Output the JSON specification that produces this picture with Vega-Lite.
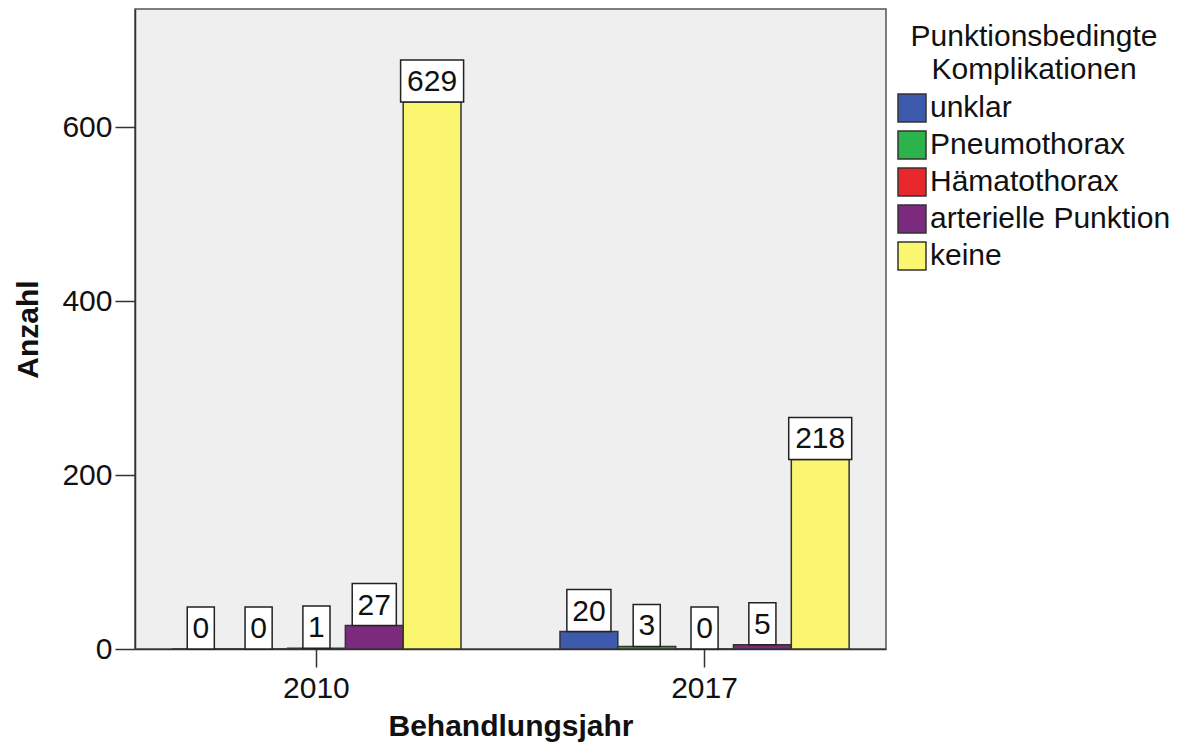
{
  "$schema": "https://vega.github.io/schema/vega-lite/v6.json",
  "width": 751,
  "height": 640,
  "autosize": {"type": "none"},
  "padding": {"left": 135, "top": 9, "right": 306, "bottom": 95},
  "background": "white",
  "config": {
    "font": "Liberation Sans",
    "view": {"fill": "#EFEFEF", "stroke": "#555555", "strokeWidth": 1.5},
    "axis": {"domainColor": "#333333", "tickColor": "#333333", "labelColor": "#111111", "titleColor": "#111111", "grid": false}
  },
  "data": {
    "values": [
      {"Jahr": "2010", "Komplikation": "unklar", "Anzahl": 0},
      {"Jahr": "2010", "Komplikation": "Pneumothorax", "Anzahl": 0},
      {"Jahr": "2010", "Komplikation": "Hämatothorax", "Anzahl": 1},
      {"Jahr": "2010", "Komplikation": "arterielle Punktion", "Anzahl": 27},
      {"Jahr": "2010", "Komplikation": "keine", "Anzahl": 629},
      {"Jahr": "2017", "Komplikation": "unklar", "Anzahl": 20},
      {"Jahr": "2017", "Komplikation": "Pneumothorax", "Anzahl": 3},
      {"Jahr": "2017", "Komplikation": "Hämatothorax", "Anzahl": 0},
      {"Jahr": "2017", "Komplikation": "arterielle Punktion", "Anzahl": 5},
      {"Jahr": "2017", "Komplikation": "keine", "Anzahl": 218}
    ]
  },
  "encoding": {
    "x": {
      "field": "Jahr",
      "type": "nominal",
      "scale": {"paddingInner": 0.255, "paddingOuter": 0.095},
      "axis": {
        "title": "Behandlungsjahr",
        "titleFontSize": 30,
        "titleFontWeight": "bold",
        "titlePadding": 8,
        "labelFontSize": 30,
        "labelAngle": 0,
        "labelPadding": 6,
        "tickSize": 18,
        "tickWidth": 1.5,
        "domainWidth": 1.5
      }
    },
    "xOffset": {
      "field": "Komplikation",
      "type": "nominal",
      "sort": ["unklar", "Pneumothorax", "Hämatothorax", "arterielle Punktion", "keine"],
      "scale": {"paddingInner": 0, "paddingOuter": 0}
    },
    "y": {
      "field": "Anzahl",
      "type": "quantitative",
      "scale": {"domain": [0, 736], "nice": false},
      "axis": {
        "title": "Anzahl",
        "titleFontSize": 30,
        "titleFontWeight": "bold",
        "titlePadding": 18,
        "labelFontSize": 30,
        "labelPadding": 3,
        "values": [0, 200, 400, 600],
        "tickSize": 20,
        "tickWidth": 1.5,
        "domainWidth": 1.5
      }
    }
  },
  "layer": [
    {
      "mark": {"type": "bar", "stroke": "#333333", "strokeWidth": 1.5, "opacity": 1},
      "encoding": {
        "color": {
          "field": "Komplikation",
          "type": "nominal",
          "sort": ["unklar", "Pneumothorax", "Hämatothorax", "arterielle Punktion", "keine"],
          "scale": {
            "domain": ["unklar", "Pneumothorax", "Hämatothorax", "arterielle Punktion", "keine"],
            "range": ["#3D5AAD", "#2DB34B", "#E8282B", "#7B2A7D", "#FAF66F"]
          },
          "legend": {
            "title": ["Punktionsbedingte", "Komplikationen"],
            "orient": "none",
            "legendX": 762,
            "legendY": 13,
            "titleFontSize": 30,
            "titleFontWeight": "normal",
            "titleColor": "#111111",
            "titleLineHeight": 33,
            "titleLimit": 400,
            "titleAnchor": "middle",
            "titleAlign": "center",
            "titlePadding": 8,
            "labelFontSize": 30,
            "labelColor": "#111111",
            "labelLimit": 400,
            "labelOffset": 3,
            "symbolType": "square",
            "symbolSize": 784,
            "symbolStrokeColor": "#333333",
            "symbolStrokeWidth": 1.5,
            "symbolOpacity": 1,
            "rowPadding": 3
          }
        }
      }
    },
    {
      "transform": [{"calculate": "length(toString(datum.Anzahl))", "as": "Stellen"}],
      "mark": {"type": "point", "filled": true, "fill": "white", "stroke": "#222222", "strokeWidth": 1.5, "opacity": 1, "size": 3969, "yOffset": -21},
      "encoding": {
        "shape": {
          "field": "Stellen",
          "type": "nominal",
          "scale": {
            "domain": [1, 2, 3],
            "range": [
              "M-0.43,-0.667H0.43V0.667H-0.43Z",
              "M-0.70,-0.667H0.70V0.667H-0.70Z",
              "M-1,-0.667H1V0.667H-1Z"
            ]
          },
          "legend": null
        }
      }
    },
    {
      "mark": {"type": "text", "fontSize": 30, "color": "#111111", "baseline": "middle", "align": "center", "yOffset": -20},
      "encoding": {
        "text": {"field": "Anzahl", "type": "quantitative"}
      }
    }
  ]
}
